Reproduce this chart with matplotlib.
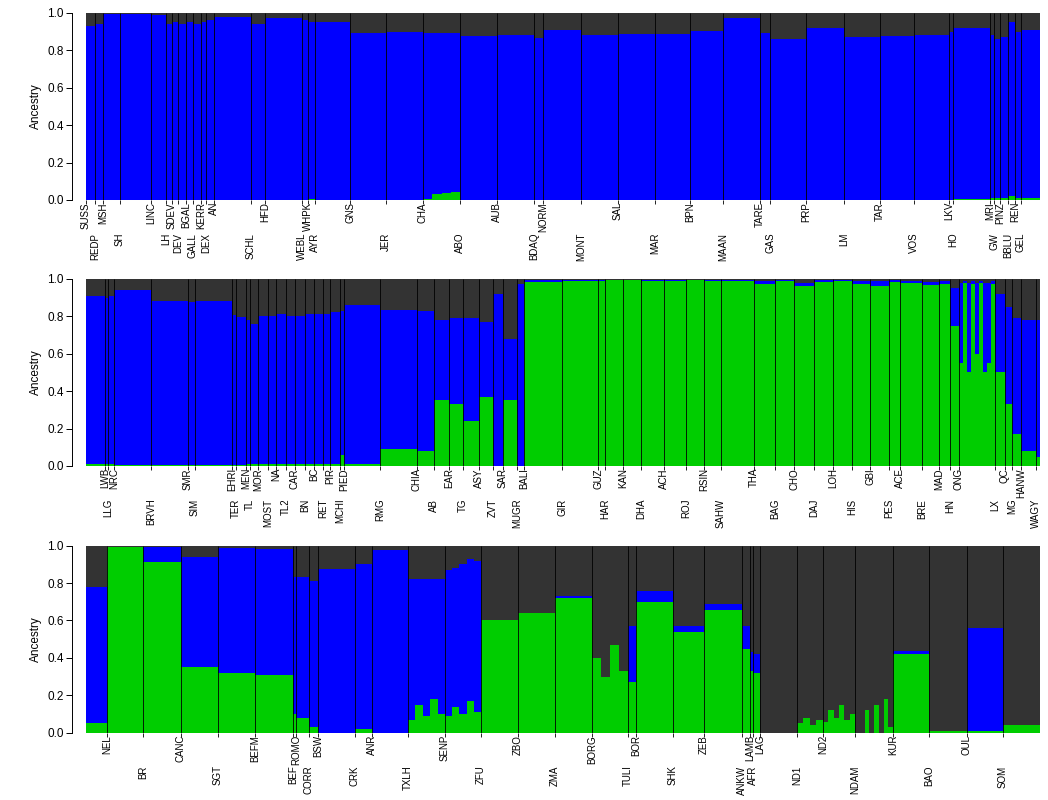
import numpy as np
import matplotlib.pyplot as plt

plt.rcParams['font.family'] = ['Liberation Sans', 'DejaVu Sans']

# population order along the three rows (one long sequence, wrapped)
pops = [
    # row 1
    'SUSS', 'REDP', 'MSH', 'SH', 'LINC', 'LH', 'SDEV', 'DEV', 'BGAL', 'GALL',
    'KERR', 'DEX', 'AN', 'SCHL', 'HFD', 'WEBL', 'WHPK', 'AYR', 'GNS', 'JER',
    'CHA', 'ABO', 'AUB', 'BDAQ', 'NORM', 'MONT', 'SAL', 'MAR', 'BPN', 'MAAN',
    'TARE', 'GAS', 'PRP', 'LM', 'TAR', 'VOS', 'LKV', 'HO', 'MRI', 'GW',
    'PINZ', 'BBLU', 'REN', 'GEL',
    # row 2
    'LWB', 'LLG', 'NRC', 'BRVH', 'SMR', 'SIM', 'EHRI', 'TER', 'MEN', 'TL',
    'MOR', 'MOST', 'NA', 'TL2', 'CAR', 'BN', 'BC', 'RET', 'PIR', 'MCHI',
    'PIED', 'RMG', 'CHIA', 'AB', 'EAR', 'TG', 'ASY', 'ZVT', 'SAR', 'MUGR',
    'BALI', 'GIR', 'GUZ', 'HAR', 'KAN', 'DHA', 'ACH', 'ROJ', 'RSIN', 'SAHW',
    'THA', 'BAG', 'CHO', 'DAJ', 'LOH', 'HIS', 'GBI', 'PES', 'ACE', 'BRE',
    'MAD', 'HN', 'ONG', 'LX', 'QC', 'MG', 'HANW', 'WAGY',
    # row 3
    'NEL', 'BR', 'CANC', 'SGT', 'BEFM', 'BEF', 'ROMO', 'CORR', 'BSW', 'CRK',
    'ANR', 'TXLH', 'SENP', 'ZFU', 'ZBO', 'ZMA', 'BORG', 'TULI', 'BOR', 'SHK',
    'ZEB', 'ANKW', 'LAMB', 'AFR', 'LAG', 'ND1', 'ND2', 'NDAM', 'KUR', 'BAO',
    'OUL', 'SOM',
]

# number of individuals per population
sizes = [
    9, 8, 17, 31, 15, 6, 6, 8, 7, 8,
    5, 8, 37, 14, 37, 6, 7, 35, 36, 37,
    37, 37, 37, 9, 38, 37, 37, 35, 33, 37,
    10, 36, 38, 36, 34, 35, 4, 37, 4, 6,
    8, 7, 6, 38,
    3, 6, 37, 37, 7, 37, 4, 10, 4, 8,
    10, 8, 10, 9, 10, 9, 9, 7, 10, 4,
    36, 37, 17, 15, 14, 16, 14, 10, 14, 7,
    38, 36, 7, 18, 18, 23, 22, 18, 17, 33,
    21, 19, 20, 19, 19, 18, 19, 11, 22, 17,
    11, 9, 36, 10, 7, 9, 15, 25,
    36, 38, 37, 37, 38, 3, 13, 9, 37, 17,
    36, 37, 36, 37, 37, 37, 36, 8, 37, 31,
    38, 8, 3, 7, 37, 26, 32, 38, 36, 38,
    36, 37,
]

# mean ancestry of the green (indicine) cluster; lists = sub-groups
green = [
    0.0, 0.0, 0.0, 0.0, 0.0, 0.0, 0.0, 0.0, 0.0, 0.0,
    0.0, 0.0, 0.0, 0.0, 0.0, 0.0, 0.005, 0.0, 0.0, 0.0,
    [0.005, 0.03, 0.035, 0.045], 0.0, 0.0, 0.0, 0.0, 0.0, 0.0, 0.0, 0.0, 0.0,
    0.0, 0.0, 0.0, 0.0, 0.0, 0.0, 0.0, 0.005, 0.01, 0.01,
    0.01, 0.02, 0.01, 0.01,
    0.01, 0.01, 0.005, 0.005, 0.005, 0.005, 0.005, 0.005, 0.01, 0.01,
    0.01, 0.01, 0.01, 0.01, 0.01, 0.01, 0.01, 0.01, 0.01, 0.06,
    0.01, 0.09, 0.08, 0.35, 0.33, 0.24, 0.37, 0.0, 0.35, 0.0,
    0.985, 0.99, 0.99, 0.995, 0.995, 0.99, 0.99, 0.995, 0.99, 0.99,
    0.97, 0.99, 0.96, 0.985, 0.99, 0.97, 0.96, 0.985, 0.98, 0.965,
    0.97, 0.75, [0.55, 0.98, 0.5, 0.97, 0.6, 0.98, 0.5, 0.55, 0.97], 0.5, 0.33, 0.17, 0.08, 0.05,
    0.99, 0.91, 0.35, 0.32, 0.31, 0.1, 0.08, 0.03, 0.0, 0.02,
    0.0, [0.07, 0.15, 0.09, 0.18, 0.1], [0.09, 0.14, 0.1, 0.17, 0.11], 0.6, 0.64, 0.72,
    [0.4, 0.3, 0.47, 0.33], 0.27, 0.7, 0.54,
    0.655, 0.45, 0.33, 0.32, 0.0, [0.05, 0.08, 0.04, 0.07],
    [0.06, 0.12, 0.08, 0.15, 0.07, 0.1], [0.0, 0.0, 0.12, 0.0, 0.15, 0.0, 0.18, 0.03], 0.42, 0.01,
    0.01, 0.04,
]

# mean ancestry of the blue (European taurine) cluster; grey = remainder
blue = [
    0.93, 0.94, 0.995, 0.995, 0.99, 0.94, 0.95, 0.94, 0.95, 0.94,
    0.95, 0.96, 0.98, 0.94, 0.97, 0.96, 0.945, 0.95, 0.89, 0.895,
    [0.885, 0.86, 0.855, 0.845], 0.875, 0.88, 0.865, 0.91, 0.88, 0.885, 0.885, 0.905, 0.97,
    0.89, 0.86, 0.92, 0.87, 0.875, 0.88, 0.9, 0.915, 0.87, 0.85,
    0.86, 0.93, 0.89, 0.9,
    0.89, 0.9, 0.935, 0.875, 0.87, 0.875, 0.8, 0.79, 0.77, 0.75,
    0.79, 0.79, 0.8, 0.79, 0.79, 0.8, 0.8, 0.8, 0.81, 0.77,
    0.85, 0.745, 0.75, 0.43, 0.46, 0.55, 0.40, 0.92, 0.33, 0.97,
    0.01, 0.005, 0.005, 0.0, 0.0, 0.005, 0.005, 0.0, 0.005, 0.005,
    0.02, 0.005, 0.02, 0.01, 0.005, 0.02, 0.03, 0.01, 0.01, 0.02,
    0.02, 0.2, [0.43, 0.01, 0.48, 0.02, 0.38, 0.01, 0.48, 0.43, 0.02], 0.42, 0.52, 0.62, 0.70, 0.73,
    0.005, 0.08, 0.59, 0.665, 0.67, 0.73, 0.75, 0.78, 0.875, 0.88,
    0.975, [0.75, 0.67, 0.73, 0.64, 0.72], [0.78, 0.74, 0.8, 0.76, 0.81], 0.0, 0.0, 0.01,
    [0.0, 0.0, 0.0, 0.0], 0.3, 0.06, 0.03,
    0.035, 0.12, 0.1, 0.1, 0.0, [0.0, 0.0, 0.0, 0.0],
    [0.0, 0.0, 0.0, 0.0, 0.0, 0.0], [0.0, 0.0, 0.0, 0.0, 0.0, 0.0, 0.0, 0.0], 0.015, 0.0,
    0.55, 0.0,
]

COL_GREEN = '#00cd00'
COL_BLUE = '#0000ff'
COL_GREY = '#333333'
N_ROWS = 3


def build_blocks():
    """Split every population into equal-width blocks (one per sub-group)."""
    lefts, widths, g_vals, b_vals = [], [], [], []
    pos = 0.0
    for n, g, b in zip(sizes, green, blue):
        g_list = g if isinstance(g, list) else [g]
        b_list = b if isinstance(b, list) else [b]
        k = len(g_list)
        for gi, bi in zip(g_list, b_list):
            lefts.append(pos)
            widths.append(n / k)
            g_vals.append(gi)
            b_vals.append(bi)
            pos += n / k
    return np.array(lefts), np.array(widths), np.array(g_vals), np.array(b_vals)


def draw_row(ax, lo, hi, blocks, starts):
    lefts, widths, g_vals, b_vals = blocks
    rights = lefts + widths
    keep = (rights > lo) & (lefts < hi)
    l = np.clip(lefts[keep], lo, hi)
    r = np.clip(rights[keep], lo, hi)
    g = g_vals[keep]
    b = b_vals[keep]

    xs = np.append(l, r[-1])
    g_ext = np.append(g, g[-1])
    gb_ext = np.append(g + b, g[-1] + b[-1])
    ax.fill_between(xs, 0, 1, step='post', color=COL_GREY, lw=0)
    ax.fill_between(xs, 0, gb_ext, step='post', color=COL_BLUE, lw=0)
    ax.fill_between(xs, 0, g_ext, step='post', color=COL_GREEN, lw=0)

    # population boundaries
    inside = [(s, name) for s, name in zip(starts, pops) if lo <= s < hi]
    ax.vlines([s for s, _ in inside if s > lo], 0, 1, color='black', lw=0.6)

    ax.set_xlim(lo, hi)
    ax.set_ylim(0, 1)
    ax.set_xticks([s for s, _ in inside])
    ax.tick_params(axis='x', length=3, width=0.6, labelbottom=False)
    for i, (s, name) in enumerate(inside):
        off = -1.5 if i % 2 == 0 else -23.5
        ax.annotate(name, xy=(s, 0), xycoords=ax.get_xaxis_transform(),
                    xytext=(0, off), textcoords='offset points',
                    rotation=90, ha='center', va='top', fontsize=7)

    ax.set_yticks([0, 0.2, 0.4, 0.6, 0.8, 1.0])
    ax.set_yticklabels(['0.0', '0.2', '0.4', '0.6', '0.8', '1.0'])
    ax.tick_params(axis='y', length=4, width=0.7, pad=2, labelsize=8.5)
    ax.set_ylabel('Ancestry', fontsize=8.5, labelpad=4)
    for side in ('top', 'right', 'bottom'):
        ax.spines[side].set_visible(False)
    ax.spines['left'].set_position(('outward', 10))
    ax.spines['left'].set_bounds(0, 1)
    ax.spines['left'].set_linewidth(0.7)


fig = plt.figure(figsize=(10.48, 8.0), dpi=100)
blocks = build_blocks()
starts = np.concatenate([[0], np.cumsum(sizes)[:-1]])
row_len = sum(sizes) / N_ROWS
bottoms = [0.75, 0.4175, 0.084]
for row in range(N_ROWS):
    ax = fig.add_axes([86 / 1048, bottoms[row], 954 / 1048, 0.234])
    draw_row(ax, row * row_len, (row + 1) * row_len, blocks, starts)

fig.savefig('out.png', dpi=100)
